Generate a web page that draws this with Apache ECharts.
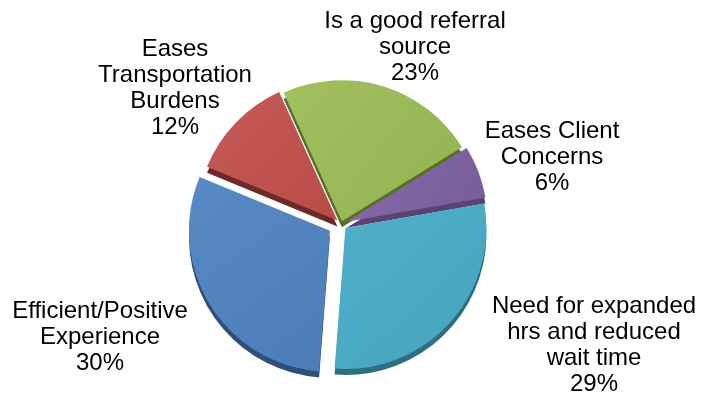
<!DOCTYPE html>
<html>
<head>
<meta charset="utf-8">
<script src="https://cdn.jsdelivr.net/npm/echarts@6/dist/echarts.min.js"></script>
<style>
  html, body { margin: 0; padding: 0; background: #ffffff; }
  #chart { width: 702px; height: 398px; }
</style>
</head>
<body>
<div id="chart"></div>
<script>
// Slices, clockwise from the first one
const categories = [
  'Is a good referral\nsource',
  'Eases Client\nConcerns',
  'Need for expanded\nhrs and reduced\nwait time',
  'Efficient/Positive\nExperience',
  'Eases\nTransportation\nBurdens'
];
const shares = [23, 6, 29, 30, 12];

// Face colours (light -> dark) and the darker side colour of each slice
const faceLight = ['#a2c060', '#8769a9', '#50b0ca', '#5789c5', '#c55a57'];
const faceDark  = ['#93b252', '#785c99', '#46a3bd', '#4c7db9', '#b94c49'];
const sideColors = ['#56702a', '#584372', '#2d6f80', '#2f4f78', '#6e2a28'];

// How far each slice is pulled out from the centre (px)
const explode = [3, 6, 6, 13, 5];
// Where each label block is centred
const labelAnchors = [[415, 47], [552, 157], [594, 345], [100, 337], [175, 88]];

const PIE_X = 341, PIE_Y = 224, RADIUS = 141, DEPTH = 6, START_ANGLE = 114.4;
const FONT = '"Liberation Sans", Arial, sans-serif';

const chart = echarts.init(document.getElementById('chart'), null, { renderer: 'canvas' });

const total = shares.reduce((a, b) => a + b, 0);
const series = [];
let cumulative = 0;

shares.forEach((value, i) => {
  // bisector angle, measured clockwise from 12 o'clock
  const mid = (90 - START_ANGLE) + (cumulative + value / 2) / total * 360;
  cumulative += value;
  const rad = mid * Math.PI / 180;
  const cx = PIE_X + explode[i] * Math.sin(rad);
  const cy = PIE_Y - explode[i] * Math.cos(rad);

  const makeData = (colorFor, withLabel) => shares.map((v, j) => ({
    name: categories[j],
    value: v,
    itemStyle: { color: j === i ? colorFor : 'rgba(0,0,0,0)' },
    label: { show: withLabel && j === i }
  }));

  const common = {
    type: 'pie',
    radius: RADIUS,
    startAngle: START_ANGLE,
    clockwise: true,
    silent: true,
    avoidLabelOverlap: false,
    emphasis: { disabled: true },
    itemStyle: { borderWidth: 0 },
    labelLine: { show: false }
  };

  // side (depth) of the slice
  series.push(Object.assign({}, common, {
    z: 1,
    center: [cx, cy + DEPTH],
    data: makeData(sideColors[i], false),
    label: { show: false }
  }));

  // top face of the slice with its label
  const face = {
    type: 'linear', x: 0, y: 0, x2: 1, y2: 1,
    colorStops: [{ offset: 0, color: faceLight[i] }, { offset: 1, color: faceDark[i] }]
  };
  series.push(Object.assign({}, common, {
    z: 2,
    center: [cx, cy],
    data: makeData(face, true),
    label: {
      position: 'outside',
      formatter: '{b}\n{d}%',
      fontFamily: FONT,
      fontSize: 24,
      lineHeight: 26,
      color: '#000000',
      align: 'center'
    },
    labelLayout: () => ({
      x: labelAnchors[i][0],
      y: labelAnchors[i][1],
      align: 'center',
      verticalAlign: 'middle'
    })
  }));
});

chart.setOption({
  animation: false,
  backgroundColor: '#ffffff',
  series: series
});
</script>
</body>
</html>
